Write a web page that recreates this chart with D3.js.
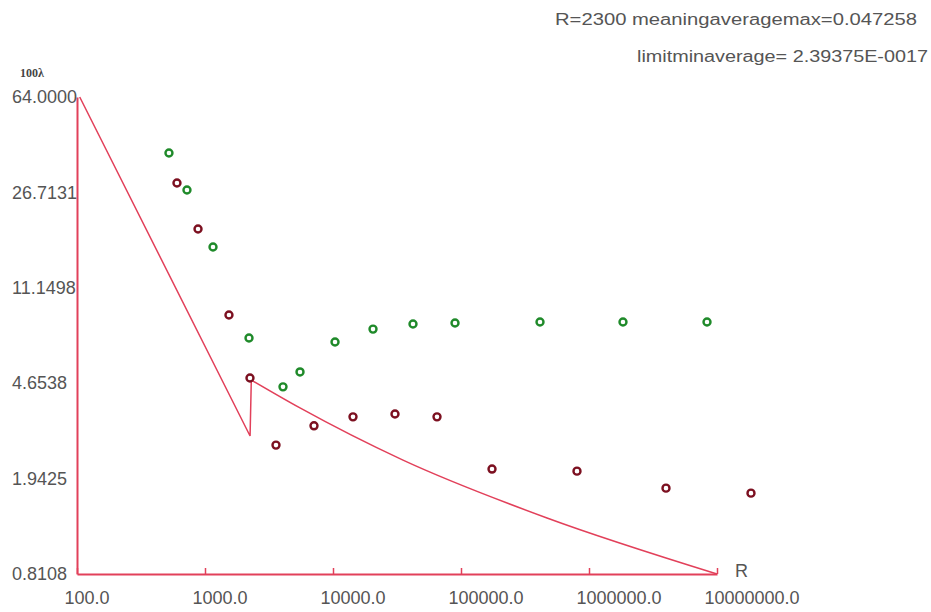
<!DOCTYPE html>
<html>
<head>
<meta charset="utf-8">
<script src="https://cdn.jsdelivr.net/npm/d3@7"></script>
<style>
  body { margin: 0; background: #fff; }
  text { font-family: "Liberation Sans", Arial, sans-serif; fill: #555; }
</style>
</head>
<body>
<div id="chart"></div>
<script>
/**
 * DATA
 * */
const xTicks = [100, 1000, 10000, 100000, 1000000, 10000000];
const yTicks = [64.0, 26.7131, 11.1498, 4.6538, 1.9425, 0.8108];
const yTickLabels = ["64.0000", "26.7131", "11.1498", "4.6538", "1.9425", "0.8108"];

const redR = [604, 882, 1539, 2246, 3586, 7105, 14330, 30500, 64940, 174700, 805600, 3995000, 18430000];
const redVal = [29.11, 19.10, 8.69, 4.88, 2.64, 3.15, 3.42, 3.51, 3.42, 2.12, 2.08, 1.78, 1.70];

const greenR = [523, 723, 1155, 2207, 4068, 5524, 10370, 20540, 42170, 89790, 414200, 1843000, 8355000];
const greenVal = [38.32, 27.31, 16.20, 7.04, 4.50, 5.16, 6.79, 7.64, 8.00, 8.08, 8.15, 8.15, 8.15];

// limit line: straight drop, jump at R=2300, then curve
const limitR = [105, 2250, 2300, 5521, 35230, 469900, 10000000];
const limitVal = [64, 2.87, 4.79, 3.71, 2.30, 1.354, 0.8108];

/**
 * CONSTANTS
 * */
const width = 931, height = 612;
const lineColor = "#e2405a";

const svg = d3.select("#chart")
  .append("svg")
  .attr("width", width)
  .attr("height", height);

const x = d3.scaleLog().domain([100, 10000000]).range([77, 717]);
const y = d3.scaleLog().domain([0.8108, 64]).range([574, 97]);

// x axis
const xAxis = svg.append("g")
  .attr("transform", `translate(0,${y(0.8108)})`)
  .call(d3.axisBottom(x)
    .tickValues(xTicks)
    .tickSizeInner(-6)
    .tickSizeOuter(0)
    .tickFormat(d => d.toFixed(1)));
xAxis.select(".domain").attr("stroke", lineColor).attr("stroke-width", 2);
xAxis.selectAll(".tick line").attr("stroke", lineColor).attr("stroke-width", 1.5);
xAxis.selectAll(".tick text")
  .attr("text-anchor", "start")
  .attr("x", -13)
  .attr("y", 17)
  .attr("dy", "0.71em")
  .style("font-size", "18px")
  .attr("fill", "#555");

// y axis
const yAxis = svg.append("g")
  .attr("transform", `translate(${x(100)},0)`)
  .call(d3.axisLeft(y)
    .tickValues(yTicks)
    .tickSize(0)
    .tickSizeOuter(0)
    .tickFormat((d, i) => yTickLabels[i]));
yAxis.select(".domain").attr("stroke", lineColor).attr("stroke-width", 2);
yAxis.selectAll(".tick text")
  .attr("text-anchor", "start")
  .attr("x", 12 - x(100))
  .style("font-size", "18px")
  .attr("fill", "#555");

// axis captions
svg.append("text")
  .attr("x", 20).attr("y", 77)
  .style("font-family", "'Liberation Serif', serif")
  .style("font-size", "12px")
  .style("font-weight", "bold")
  .style("fill", "#444")
  .text("100λ");

svg.append("text")
  .attr("x", 735).attr("y", 577)
  .style("font-size", "18px")
  .text("R");

// top right notes
svg.append("text")
  .attr("x", 555).attr("y", 25)
  .style("font-size", "16px")
  .attr("textLength", 362)
  .attr("lengthAdjust", "spacingAndGlyphs")
  .text("R=2300  meaningaveragemax=0.047258");

svg.append("text")
  .attr("x", 637).attr("y", 62)
  .style("font-size", "16px")
  .attr("textLength", 291)
  .attr("lengthAdjust", "spacingAndGlyphs")
  .text("limitminaverage= 2.39375E-0017");

// limit line
const limit = limitR.map((r, i) => ({ r, v: limitVal[i] }));
const lineLin = d3.line().x(d => x(d.r)).y(d => y(d.v));
const lineCurve = d3.line().x(d => x(d.r)).y(d => y(d.v)).curve(d3.curveMonotoneX);

svg.append("path")
  .datum(limit.slice(0, 3))
  .attr("d", lineLin)
  .attr("fill", "none")
  .attr("stroke", lineColor)
  .attr("stroke-width", 1.5);

svg.append("path")
  .datum(limit.slice(2))
  .attr("d", lineCurve)
  .attr("fill", "none")
  .attr("stroke", lineColor)
  .attr("stroke-width", 1.5);

// point series
const green = greenR.map((r, i) => ({ r, v: greenVal[i] }));
const red = redR.map((r, i) => ({ r, v: redVal[i] }));

svg.selectAll(".green")
  .data(green)
  .join("circle")
  .attr("class", "green")
  .attr("cx", d => x(d.r))
  .attr("cy", d => y(d.v))
  .attr("r", 3.5)
  .attr("fill", "#fff")
  .attr("stroke", "#1f8a2a")
  .attr("stroke-width", 2.4);

svg.selectAll(".red")
  .data(red)
  .join("circle")
  .attr("class", "red")
  .attr("cx", d => x(d.r))
  .attr("cy", d => y(d.v))
  .attr("r", 3.5)
  .attr("fill", "#fff")
  .attr("stroke", "#7c1020")
  .attr("stroke-width", 2.4);
</script>
</body>
</html>
